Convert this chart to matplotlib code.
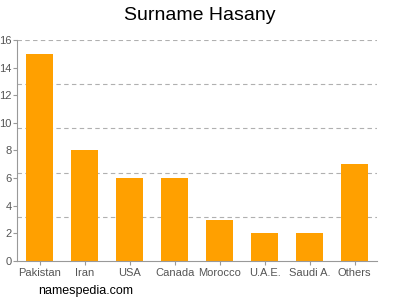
import numpy as np
import matplotlib.pyplot as plt

plt.rcParams['font.family'] = ['Liberation Sans', 'DejaVu Sans']

countries = ['Pakistan', 'Iran', 'USA', 'Canada', 'Morocco', 'U.A.E.', 'Saudi A.', 'Others']
counts = [15, 8, 6, 6, 3, 2, 2, 7]
yticks = [0, 2, 4, 6, 8, 10, 12, 14, 16]
gridvals = [3.2, 6.4, 9.6, 12.8, 16]

fig = plt.figure(figsize=(4, 3), dpi=100)
ax = fig.add_axes([0.043, 0.13, 0.9, 0.737])

x = np.arange(len(countries))
for g in gridvals:
    ax.axhline(g, color='#b0b0b0', lw=0.8, ls=(0, (4, 3)), zorder=0)
ax.bar(x, counts, width=0.6, color='#ffa000', zorder=2)

ax.set_xlim(-0.5, len(countries) - 0.5)
ax.set_ylim(0, 16)
ax.set_yticks(yticks)
ax.set_xticks(x)
ax.set_xticklabels(countries)
ax.tick_params(axis='both', colors='#999999', labelcolor='#555555', labelsize=8, length=3, width=0.8)
ax.tick_params(axis='y', pad=1)
ax.tick_params(axis='x', pad=2)
for s in ['top', 'right']:
    ax.spines[s].set_visible(False)
for s in ['left', 'bottom']:
    ax.spines[s].set_color('#999999')
    ax.spines[s].set_linewidth(0.8)

fig.text(0.5, 0.95, 'Surname Hasany', ha='center', va='center', fontsize=14)
fig.text(0.095, 0.03, 'namespedia.com', ha='left', va='center', fontsize=9)

fig.savefig('out.png')
